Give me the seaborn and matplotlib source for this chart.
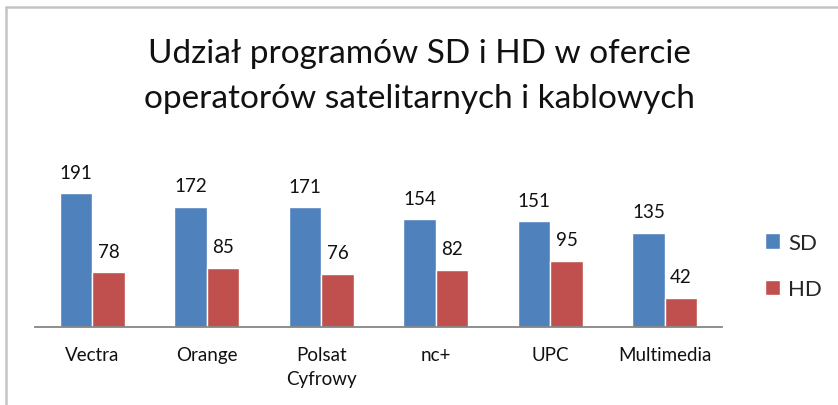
import pandas as pd
import matplotlib.pyplot as plt
import seaborn as sns
from matplotlib.lines import Line2D

# data
operators = ["Vectra", "Orange", "Polsat\nCyfrowy", "nc+", "UPC", "Multimedia"]
sd_counts = [191, 172, 171, 154, 151, 135]
hd_counts = [78, 85, 76, 82, 95, 42]
series = ["SD", "HD"]
colors = ["#4F81BD", "#C0504D"]
title_lines = ["Udział programów SD i HD w ofercie",
               "operatorów satelitarnych i kablowych"]

df = pd.DataFrame({
    "operator": operators * 2,
    "count": sd_counts + hd_counts,
    "series": ["SD"] * len(operators) + ["HD"] * len(operators),
})

sns.set_style("white")
plt.rcParams["font.family"] = ["Lato", "DejaVu Sans"]

W, H = 838, 406
fig = plt.figure(figsize=(W / 100, H / 100), dpi=100)
ax = fig.add_axes([35 / W, 78 / H, 687 / W, 175 / H])

sns.barplot(data=df, x="operator", y="count", hue="series", hue_order=series,
            palette=colors, width=0.57, saturation=1, ax=ax, legend=True)

for cont in ax.containers:
    ax.bar_label(cont, padding=9, fontsize=13.5, color="#111111")

ax.set_ylim(0, 250)
ax.set_xlim(-0.5, len(operators) - 0.5)
ax.set_xlabel("")
ax.set_ylabel("")
ax.set_yticks([])
for s in ["top", "right", "left"]:
    ax.spines[s].set_visible(False)
ax.spines["bottom"].set_color("#868686")
ax.spines["bottom"].set_linewidth(1.3)

ax.tick_params(axis="x", which="major", length=0, pad=14, labelsize=13.5, labelcolor="#111111")
for lbl in ax.get_xticklabels():
    lbl.set_linespacing(1.45)
ax.set_xticks([i - 0.5 for i in range(len(operators) + 1)], minor=True)
ax.tick_params(axis="x", which="minor", length=6, width=1.3, color="#868686")

ax.legend(loc="center left", bbox_to_anchor=(756 / W, 139 / H),
          bbox_transform=fig.transFigure, frameon=False, fontsize=16,
          handlelength=0.7, handleheight=0.7, handletextpad=0.35,
          labelspacing=1.2, borderaxespad=0)

# two title lines placed on their baselines
fig.text(0.5, 1 - 63 / H, title_lines[0], ha="center", va="baseline",
         fontsize=24, color="#111111")
fig.text(0.5, 1 - 108 / H, title_lines[1], ha="center", va="baseline",
         fontsize=24, color="#111111")

# chart frame edges visible in the screenshot
fig.add_artist(Line2D([5.5 / W, 5.5 / W], [0, 1 - 8 / H], transform=fig.transFigure,
                      color="#c4c4c4", lw=1.8))
fig.add_artist(Line2D([5.5 / W, 1], [1 - 8 / H, 1 - 8 / H], transform=fig.transFigure,
                      color="#c4c4c4", lw=1.8))

fig.savefig("out.png", dpi=100, facecolor="white")
